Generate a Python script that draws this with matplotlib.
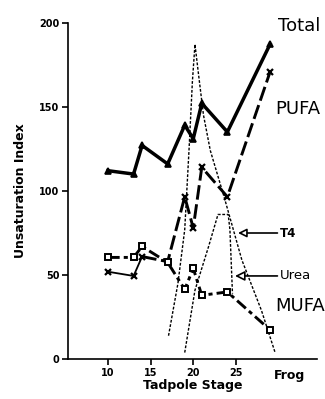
import matplotlib
matplotlib.use('Agg')
import matplotlib.pyplot as plt

# tadpole stages (last one = frog)
stages = [10, 13, 14, 17, 19, 20, 21, 24, 29]
total = [112, 110, 127, 116, 139, 131, 152, 135, 187]
pufa = [52, 49.5, 61, 58, 96.5, 78, 114, 96.5, 170.5]
mufa = [60.5, 60.5, 67, 57.5, 41.5, 54, 38, 40, 17.5]

# thin hormone / urea curves
t4_x = [17.1, 18.2, 19.0, 19.5, 19.9, 20.2, 20.6, 21.2, 22.0, 23.7, 25.7, 28.0, 29.6]
t4_y = [14, 45, 77, 124, 165, 187, 170, 145, 124, 95, 59, 29, 4]
urea_x = [19.0, 20.2, 21.8, 22.9, 24.1, 24.3, 24.6]
urea_y = [4, 41, 67, 86, 86, 77, 39]

xticks = [10, 15, 20, 25]
yticks = [0, 50, 100, 150, 200]

fam = ['DejaVu Sans']

fig = plt.figure(figsize=(3.25, 3.99), dpi=100)
ax = fig.add_axes([0.209, 0.0995, 0.766, 0.8441])

ax.plot(t4_x, t4_y, color='k', lw=1.0, ls=(0, (2, 1.2)))
ax.plot(urea_x, urea_y, color='k', lw=1.0, ls=(0, (2, 1.2)))

ax.plot(stages, total, color='k', lw=2.5, marker='^', ms=5, mfc='k', mec='k', mew=1.2)
ax.plot(stages[:3], pufa[:3], color='k', lw=1.3)
ax.plot(stages[2:], pufa[2:], color='k', lw=2.1, ls=(0, (5, 1.6)))
ax.plot(stages, pufa, color='none', marker='x', ms=5, mec='k', mew=1.6)
ax.plot(stages, mufa, color='k', lw=2.1, ls=(0, (4, 1.4, 1.4, 1.4)),
        marker='s', ms=4.5, mfc='white', mec='k', mew=1.4)

ax.set_xlim(5.3, 34.5)
ax.set_ylim(0, 200)
ax.set_xticks(xticks)
ax.set_yticks(yticks)
ax.tick_params(direction='out', length=4, width=1.2, labelsize=7, pad=2)
for lab in ax.get_xticklabels() + ax.get_yticklabels():
    lab.set_fontweight('bold')
for s in ['top', 'right']:
    ax.spines[s].set_visible(False)
ax.spines['left'].set_linewidth(1.2)
ax.spines['bottom'].set_linewidth(1.2)

ax.text(31.3, -6, 'Frog', ha='center', va='top', fontsize=9, fontweight='bold', family=fam)
ax.set_xlabel('Tadpole Stage', fontsize=9, fontweight='bold', labelpad=1, family=fam)
ax.set_ylabel('Unsaturation Index', fontsize=9, fontweight='bold', labelpad=9, family=fam)

ax.text(29.9, 198, 'Total', fontsize=13, va='center', ha='left', family=fam, clip_on=False)
ax.text(29.6, 148.5, 'PUFA', fontsize=13, va='center', ha='left', family=fam, clip_on=False)
ax.text(29.6, 31.5, 'MUFA', fontsize=13, va='center', ha='left', family=fam, clip_on=False)

arrow = dict(arrowstyle='-|>,head_length=0.6,head_width=0.3', color='k', lw=1.2, fc='white',
             shrinkA=0, shrinkB=0)
ax.annotate('T4', xy=(25.25, 75), xytext=(30.2, 75), fontsize=8.5, fontweight='bold',
            va='center', ha='left', family=fam, arrowprops=arrow)
ax.annotate('Urea', xy=(24.9, 49.5), xytext=(30.2, 49.5), fontsize=9.5,
            va='center', ha='left', family=fam, arrowprops=arrow)

fig.savefig('out.png', dpi=100)
